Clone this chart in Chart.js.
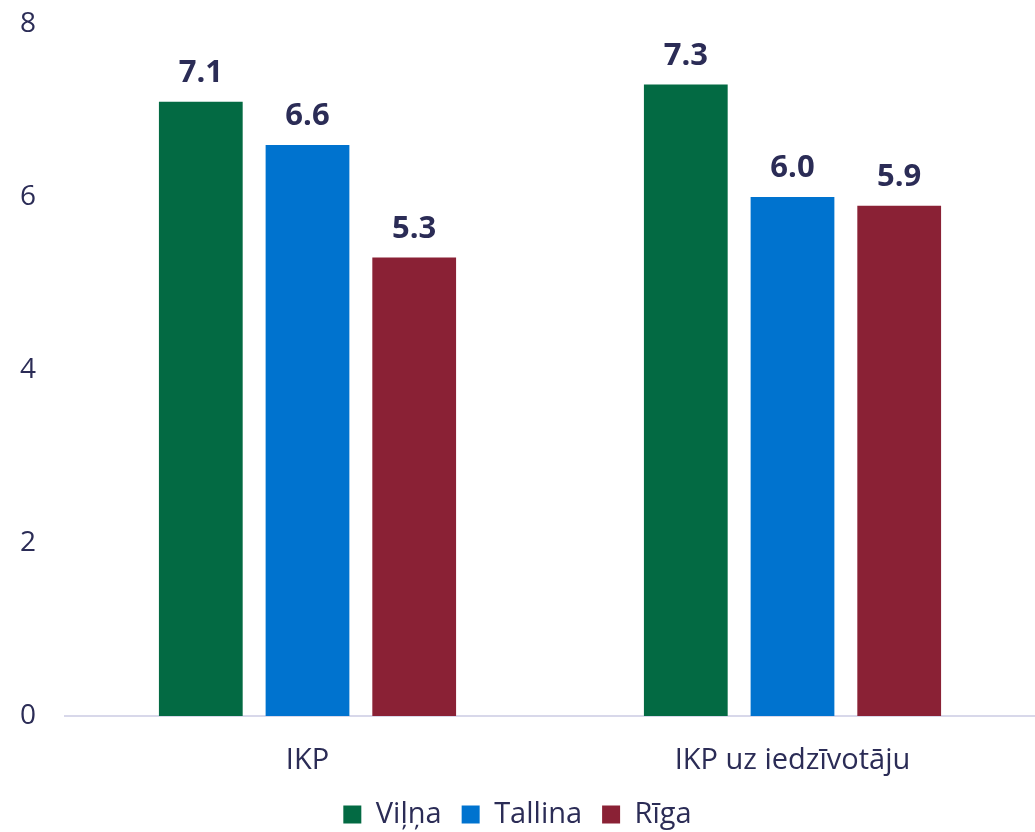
<!DOCTYPE html>
<html>
<head>
<meta charset="utf-8">
<script src="https://cdn.jsdelivr.net/npm/chart.js@4.4.0/dist/chart.umd.min.js"></script>
<style>
  html, body { margin: 0; padding: 0; background: #fff; }
  #wrap { width: 1035px; height: 832px; }
</style>
</head>
<body>
<div id="wrap"><canvas id="chart"></canvas></div>
<script>
var categories = ["IKP", "IKP uz iedzīvotāju"];
var vilna = [7.1, 7.3];
var tallina = [6.6, 6.0];
var riga = [5.3, 5.9];
var yTicks = [0, 2, 4, 6, 8];

var textColor = "#2b2c56";

// simple value labels above the bars
var valueLabels = {
    id: "valueLabels",
    afterDatasetsDraw: function (chart) {
        var ctx = chart.ctx;
        ctx.save();
        ctx.font = "bold 31px 'Open Sans'";
        ctx.fillStyle = textColor;
        ctx.textAlign = "center";
        ctx.textBaseline = "bottom";
        chart.data.datasets.forEach(function (ds, i) {
            var meta = chart.getDatasetMeta(i);
            meta.data.forEach(function (bar, j) {
                ctx.fillText(ds.data[j].toFixed(1), bar.x, bar.y - 13);
            });
        });
        ctx.restore();
    }
};

var chartdata = {
    labels: categories,
    datasets: [
        { label: "Viļņa", backgroundColor: "#036a43", data: vilna },
        { label: "Tallina", backgroundColor: "#0073cf", data: tallina },
        { label: "Rīga", backgroundColor: "#8a2135", data: riga }
    ]
};

new Chart(document.getElementById("chart"), {
    type: "bar",
    data: chartdata,
    plugins: [valueLabels],
    options: {
        responsive: true,
        maintainAspectRatio: false,
        animation: false,
        layout: { padding: { top: 24, right: 0, left: 0, bottom: -7 } },
        datasets: { bar: { categoryPercentage: 0.66, barPercentage: 0.785 } },
        plugins: {
            legend: {
                position: "bottom",
                labels: {
                    font: { family: "'Open Sans'", size: 29 },
                    color: textColor,
                    boxWidth: 18,
                    boxHeight: 18,
                    padding: 20
                }
            },
            tooltip: { enabled: false }
        },
        scales: {
            x: {
                grid: { display: false, drawTicks: false },
                border: { color: "#d8d8ea", width: 2 },
                ticks: {
                    font: { family: "'Open Sans'", size: 29 },
                    color: textColor,
                    padding: 27
                },
                afterFit: function (axis) {
                    axis.height = 64;
                }
            },
            y: {
                min: 0,
                max: 8,
                afterBuildTicks: function (axis) {
                    axis.ticks = yTicks.map(function (v) { return { value: v }; });
                },
                grid: { display: false, drawTicks: false },
                border: { display: false },
                ticks: {
                    font: { family: "'Open Sans'", size: 28 },
                    color: textColor,
                    padding: 29
                },
                afterFit: function (axis) {
                    axis.width = 65;
                    axis.paddingTop = 0;
                    axis.paddingBottom = 0;
                }
            }
        }
    }
});
</script>
</body>
</html>
